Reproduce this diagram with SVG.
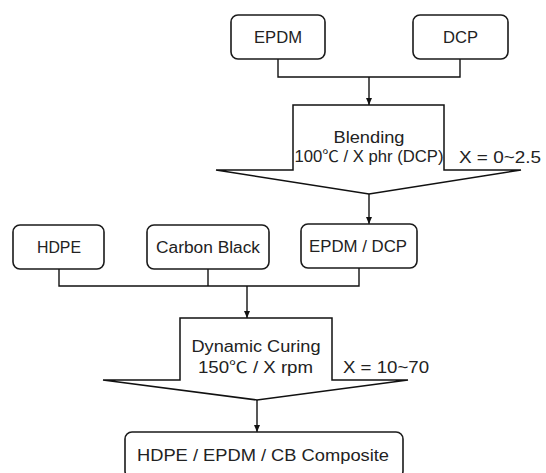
<svg xmlns="http://www.w3.org/2000/svg" width="546" height="473" viewBox="0 0 546 473">
<style>
.box{fill:#fff;stroke:#1a1a1a;stroke-width:1.6}
.proc{fill:#fff;stroke:#111;stroke-width:1.5;stroke-linejoin:miter}
.line{fill:none;stroke:#111;stroke-width:1.4}
text{font-family:"Liberation Sans","Noto Sans CJK KR",Arial,sans-serif;font-size:16px;fill:#222;text-anchor:middle}
</style>
<defs>
<marker id="ah" markerWidth="8" markerHeight="8" refX="7" refY="4" orient="auto" markerUnits="userSpaceOnUse">
<path d="M0,1 L7,4 L0,7 Z" fill="#111"/>
</marker>
</defs>
<rect width="546" height="473" fill="#fff"/>
<g id="connectors">
<polyline class="line" points="278,59 278,77 460,77 460,59"/>
<line class="line" x1="369" y1="77" x2="369" y2="105" marker-end="url(#ah)"/>
<line class="line" x1="369" y1="194" x2="369" y2="224" marker-end="url(#ah)"/>
<polyline class="line" points="59,269 59,286 359,286 359,268"/>
<line class="line" x1="208" y1="269" x2="208" y2="286"/>
<line class="line" x1="247" y1="286" x2="247" y2="318" marker-end="url(#ah)"/>
<line class="line" x1="257" y1="400" x2="257" y2="432" marker-end="url(#ah)"/>
</g>
<g id="epdm">
<rect class="box" x="231" y="15" width="94" height="44" rx="7"/>
<text x="278" y="43" textLength="48" lengthAdjust="spacingAndGlyphs">EPDM</text>
</g>
<g id="dcp">
<rect class="box" x="413" y="15" width="95" height="44" rx="7"/>
<text x="460.5" y="43" textLength="35" lengthAdjust="spacingAndGlyphs">DCP</text>
</g>
<g id="blending">
<path class="proc" d="M293,105 L444,105 L444,170 L521,170 L369,194 L216,170 L293,170 Z"/>
<text x="369" y="143" textLength="71" lengthAdjust="spacingAndGlyphs">Blending</text>
<text x="369" y="162" textLength="149" lengthAdjust="spacingAndGlyphs">100℃ / X phr (DCP)</text>
<text x="500" y="163" textLength="82" lengthAdjust="spacingAndGlyphs">X = 0~2.5</text>
</g>
<g id="hdpe">
<rect class="box" x="13" y="225" width="91" height="44" rx="7"/>
<text x="59" y="253" textLength="44" lengthAdjust="spacingAndGlyphs">HDPE</text>
</g>
<g id="carbon-black">
<rect class="box" x="147" y="225" width="122" height="44" rx="7"/>
<text x="208" y="253" textLength="104" lengthAdjust="spacingAndGlyphs">Carbon Black</text>
</g>
<g id="epdm-dcp">
<rect class="box" x="301" y="224" width="116" height="44" rx="7"/>
<text x="358" y="252" textLength="98" lengthAdjust="spacingAndGlyphs">EPDM / DCP</text>
</g>
<g id="dynamic-curing">
<path class="proc" d="M180,318 L332,318 L332,380 L408,380 L257,400 L103,380 L180,380 Z"/>
<text x="256" y="352" textLength="129" lengthAdjust="spacingAndGlyphs">Dynamic Curing</text>
<text x="255.5" y="373" textLength="115" lengthAdjust="spacingAndGlyphs">150℃ / X rpm</text>
<text x="386" y="373" textLength="86" lengthAdjust="spacingAndGlyphs">X = 10~70</text>
</g>
<g id="composite">
<rect class="box" x="125" y="432" width="278" height="46" rx="7"/>
<text x="263" y="461" textLength="252" lengthAdjust="spacingAndGlyphs">HDPE / EPDM / CB Composite</text>
</g>
</svg>
